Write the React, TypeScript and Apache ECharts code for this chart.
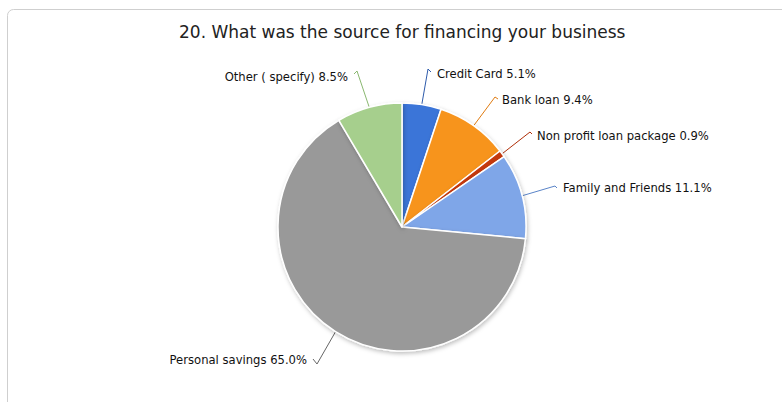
import React, { useEffect, useRef } from "react";
import * as echarts from "echarts";

const titleText = "20. What was the source for financing your business";
const categories = [
  "Credit Card",
  "Bank loan",
  "Non profit loan package",
  "Family and Friends",
  "Personal savings",
  "Other ( specify)",
];
const values = [5.1, 9.4, 0.9, 11.1, 65.0, 8.5];
const colors = ["#3b74d8", "#f7941f", "#c4390c", "#7fa6e8", "#999999", "#a6cf8d"];
const lineColors = ["#2e5bab", "#e07b10", "#b02f08", "#5a84c8", "#666666", "#8ab870"];

// label anchor positions [x, y, align]
const labelSpots: [number, number, string][] = [
  [437, 74, "left"],
  [502, 100, "left"],
  [537, 136, "left"],
  [563, 188, "left"],
  [307, 360, "right"],
  [348, 77, "right"],
];
const lineEnds: [number, number][] = [
  [428, 69],
  [495, 97],
  [530, 132],
  [555, 186],
  [317, 364],
  [357, 71],
];
const hooks: [number, number][] = [
  [431, 72],
  [498, 99],
  [532, 134],
  [557, 188],
  [313, 359],
  [354, 74],
];

export default function App() {
  const ref = useRef<HTMLDivElement>(null);
  useEffect(() => {
    const chart = echarts.init(ref.current!, null, { renderer: "svg" });
    chart.setOption({
      animation: false,
      backgroundColor: "#ffffff",
      title: {
        text: titleText,
        left: 174,
        top: 18,
        textStyle: {
          fontFamily: "DejaVu Sans",
          fontSize: 17,
          fontWeight: "normal",
          color: "#222",
        },
      },
      graphic: [
        {
          type: "rect",
          shape: { x: 7.5, y: 9.5, width: 800, height: 420, r: 6 },
          style: { fill: "none", stroke: "#cfcfcf", lineWidth: 1 },
          silent: true,
        },
      ],
      series: [
        {
          type: "pie",
          center: [402, 227],
          radius: 124,
          startAngle: 90,
          clockwise: true,
          data: categories.map((c, i) => ({
            name: c,
            value: values[i],
            itemStyle: { color: colors[i] },
            labelLine: { lineStyle: { color: lineColors[i], width: 1 } },
          })),
          itemStyle: {
            borderColor: "#ffffff",
            borderWidth: 1.5,
            shadowBlur: 4,
            shadowOffsetX: 1,
            shadowOffsetY: 2,
            shadowColor: "rgba(0,0,0,0.25)",
          },
          label: {
            show: true,
            position: "outside",
            formatter: (p: any) => `${p.name} ${p.value.toFixed(1)}%`,
            fontFamily: "DejaVu Sans",
            fontSize: 11.6,
            color: "#111",
          },
          labelLine: { show: true, length: 20, length2: 5, smooth: false },
          labelLayout: (p: any) => {
            const i = p.dataIndex;
            const s = labelSpots[i];
            const pts = p.labelLinePoints;
            const start = pts ? pts[0] : [0, 0];
            return {
              x: s[0],
              y: s[1],
              align: s[2],
              verticalAlign: "middle",
              labelLinePoints: [start, lineEnds[i], hooks[i]],
            };
          },
        },
      ],
    });
    return () => chart.dispose();
  }, []);
  return (
    <div
      ref={ref}
      style={{ position: "absolute", left: 0, top: 0, width: 782, height: 402 }}
    />
  );
}
